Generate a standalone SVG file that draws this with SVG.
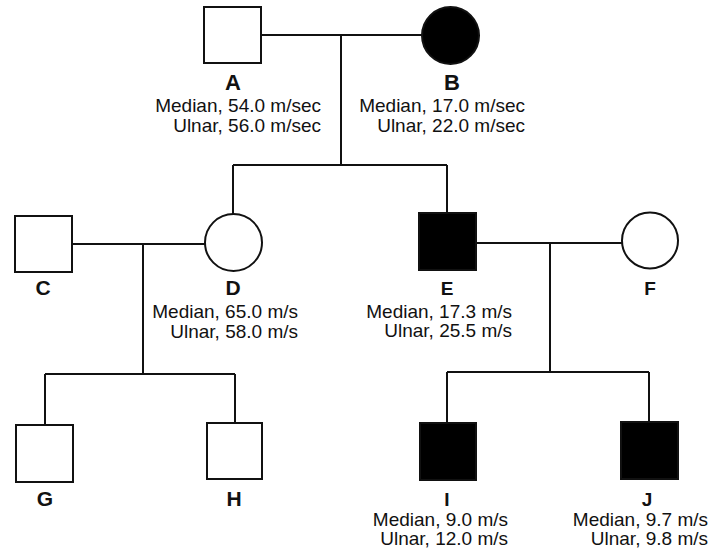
<svg xmlns="http://www.w3.org/2000/svg" width="711" height="556" viewBox="0 0 711 556">
<style>
.sym{stroke:#111;stroke-width:2;fill:#fff}
.aff{stroke:#111;stroke-width:2;fill:#000}
.ln{stroke:#111;stroke-width:2;fill:none}
.lbl{font-family:"Liberation Sans",Arial,sans-serif;font-weight:bold;font-size:22px;fill:#111;text-anchor:middle}
.sm{font-size:19px}
.md{font-size:21px}
.val{font-family:"Liberation Sans",Arial,sans-serif;font-size:19px;fill:#111;text-anchor:end}
</style>
<rect width="711" height="556" fill="#fff"/>
<g id="connectors">
<path class="ln" d="M261 35 H422"/>
<path class="ln" d="M341 35 V165"/>
<path class="ln" d="M233 165 H447"/>
<path class="ln" d="M233 165 V214"/>
<path class="ln" d="M447 165 V213"/>
<path class="ln" d="M72 244 H205"/>
<path class="ln" d="M143 244 V374"/>
<path class="ln" d="M45 374 H235"/>
<path class="ln" d="M45 374 V425"/>
<path class="ln" d="M235 374 V423"/>
<path class="ln" d="M476 243 H622"/>
<path class="ln" d="M550 243 V372"/>
<path class="ln" d="M447 372 H649"/>
<path class="ln" d="M447 372 V423"/>
<path class="ln" d="M649 372 V422"/>
</g>
<g id="A">
<rect class="sym" x="204" y="7" width="57" height="56"/>
<text class="lbl" x="233" y="90">A</text>
<text class="val" x="321" y="112">Median, 54.0 m/sec</text>
<text class="val" x="321" y="132">Ulnar, 56.0 m/sec</text>
</g>
<g id="B">
<circle class="aff" cx="450.5" cy="35.5" r="28.5"/>
<text class="lbl" x="452" y="90">B</text>
<text class="val" x="525" y="112">Median, 17.0 m/sec</text>
<text class="val" x="525" y="132">Ulnar, 22.0 m/sec</text>
</g>
<g id="C">
<rect class="sym" x="15" y="216" width="57" height="56"/>
<text class="lbl md" x="43" y="295">C</text>
</g>
<g id="D">
<circle class="sym" cx="233.5" cy="242.5" r="28.5"/>
<text class="lbl md" x="233" y="295">D</text>
<text class="val" x="298" y="318">Median, 65.0 m/s</text>
<text class="val" x="298" y="338">Ulnar, 58.0 m/s</text>
</g>
<g id="E">
<rect class="aff" x="419" y="213" width="57" height="57"/>
<text class="lbl sm" x="447" y="295">E</text>
<text class="val" x="512" y="318">Median, 17.3 m/s</text>
<text class="val" x="512" y="337">Ulnar, 25.5 m/s</text>
</g>
<g id="F">
<circle class="sym" cx="650" cy="240.5" r="28"/>
<text class="lbl sm" x="650" y="295">F</text>
</g>
<g id="G">
<rect class="sym" x="16" y="425" width="57" height="57"/>
<text class="lbl md" x="45" y="506">G</text>
</g>
<g id="H">
<rect class="sym" x="207" y="423" width="55" height="56"/>
<text class="lbl md" x="234" y="506">H</text>
</g>
<g id="I">
<rect class="aff" x="420" y="423" width="56" height="57"/>
<text class="lbl sm" x="447" y="506">I</text>
<text class="val" x="508" y="526">Median, 9.0 m/s</text>
<text class="val" x="508" y="545">Ulnar, 12.0 m/s</text>
</g>
<g id="J">
<rect class="aff" x="621" y="422" width="57" height="57"/>
<text class="lbl sm" x="647" y="506">J</text>
<text class="val" x="708" y="526">Median, 9.7 m/s</text>
<text class="val" x="708" y="545">Ulnar, 9.8 m/s</text>
</g>
</svg>
